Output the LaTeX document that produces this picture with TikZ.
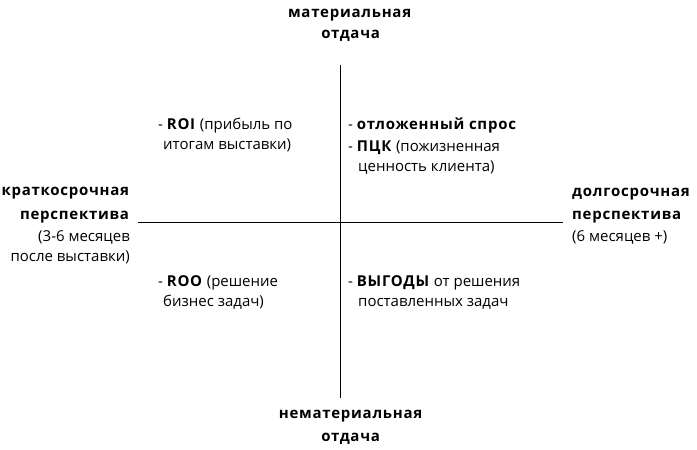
\documentclass[tikz,border=0pt]{standalone}
\usepackage{fontspec}
\setmainfont{Open Sans}[BoldFeatures={LetterSpace=5}]
\begin{document}
\begin{tikzpicture}[x=1pt,y=-1pt,
  txt/.style={inner sep=0pt,font=\fontsize{15}{18}\selectfont},
  lw/.style={txt,anchor=base west},
  le/.style={txt,anchor=base east},
  lc/.style={txt,anchor=base},
  axis/.style={line width=1pt,black}]
\useasboundingbox (0,0) rectangle (697,450);
% axes
\coordinate (vt) at (340,65);
\coordinate (vb) at (340,398);
\coordinate (hl) at (138,222);
\coordinate (hr) at (563,222);
\draw[axis] (vt) -- (vb);
\draw[axis] (hl) -- (hr);
% top / bottom
\node[lc] (t1) at (350,17) {\textbf{материальная}};
\node[lc] (t2) at (351,38) {\textbf{отдача}};
\node[lc] (b1) at (351,418) {\textbf{нематериальная}};
\node[lc] (b2) at (351,441) {\textbf{отдача}};
% left
\node[le] (l1) at (130,195) {\textbf{краткосрочная}};
\node[le] (l2) at (130,219) {\textbf{перспектива}};
\node[le] (l3) at (130,241) {(3-6 месяцев};
\node[le] (l4) at (130,261) {после выставки)};
% right
\node[lw] (r1) at (572,196) {\textbf{долгосрочная}};
\node[lw] (r2) at (572,219) {\textbf{перспектива}};
\node[lw] (r3) at (572,241) {(6 месяцев +)};
% quadrants
\node[lw] (q1a) at (158,129) {- \textbf{ROI} (прибыль по};
\node[lw] (q1b) at (163,149) {итогам выставки)};
\node[lw] (q2a) at (348,129) {- \textbf{отложенный спрос}};
\node[lw] (q2b) at (348,151) {- \textbf{ПЦК} (пожизненная};
\node[lw] (q2c) at (358,171) {ценность клиента)};
\node[lw] (q3a) at (158,286) {- \textbf{ROO} (решение};
\node[lw] (q3b) at (163,306) {бизнес задач)};
\node[lw] (q4a) at (348,286) {- \textbf{ВЫГОДЫ} от решения};
\node[lw] (q4b) at (358,306) {поставленных задач};
\end{tikzpicture}
\end{document}
